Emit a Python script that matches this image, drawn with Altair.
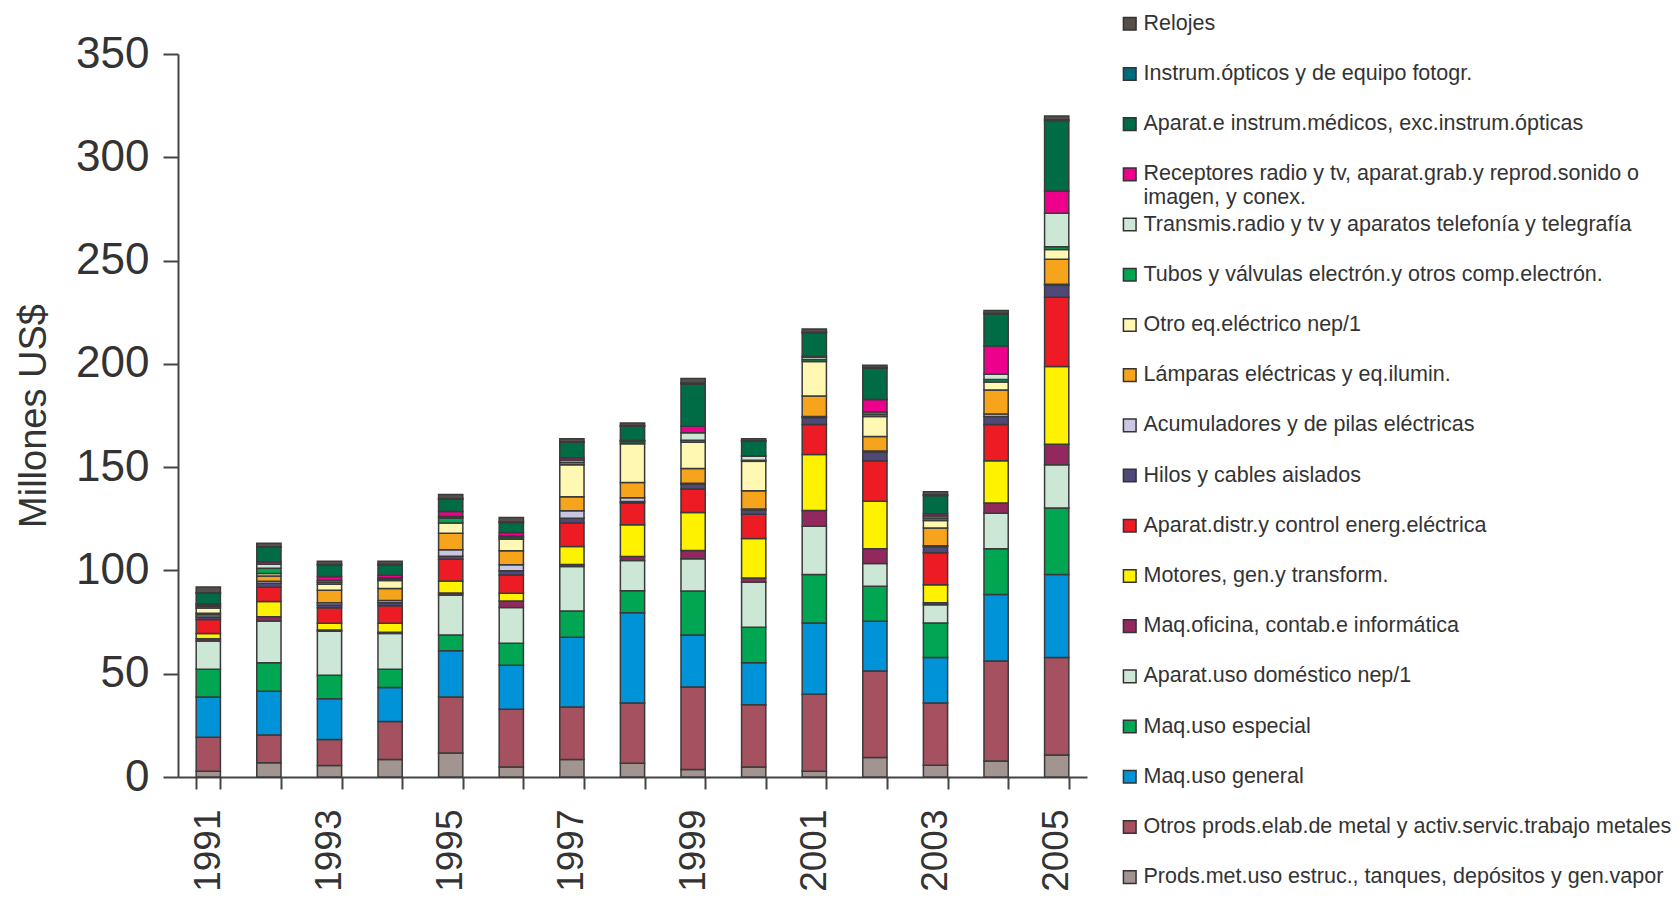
import altair as alt
import pandas as pd

years = [str(y) for y in range(1991, 2006)]

# Series, bottom of stack first
prods_met = [2.8, 6.9, 5.6, 8.5, 11.6, 4.8, 8.5, 6.7, 3.6, 4.9, 2.8, 9.4, 5.7, 7.7, 10.7]
otros_prods = [16.5, 13.4, 12.6, 18.4, 27.1, 28.0, 25.4, 29.1, 40.0, 30.1, 37.2, 41.9, 30.1, 48.5, 47.1]
maq_general = [19.4, 21.2, 19.7, 16.4, 22.4, 21.3, 33.7, 43.7, 25.1, 20.3, 34.6, 24.1, 22.0, 32.2, 40.2]
maq_especial = [13.5, 13.8, 11.4, 8.9, 7.6, 10.6, 12.7, 10.7, 21.3, 17.2, 23.4, 16.9, 16.8, 22.1, 32.2]
aparat_domestico = [13.6, 20.2, 21.3, 17.3, 19.4, 17.4, 21.6, 14.6, 15.6, 21.8, 23.4, 11.1, 8.8, 17.2, 20.9]
maq_oficina = [1.1, 2.1, 0.6, 0.6, 1.0, 3.1, 1.0, 1.9, 4.0, 2.0, 7.6, 7.1, 1.0, 5.0, 10.0]
motores = [2.6, 7.3, 3.2, 4.3, 5.8, 3.7, 8.7, 15.4, 18.5, 19.2, 27.1, 23.0, 8.7, 20.4, 37.6]
aparat_distr = [6.8, 6.9, 7.5, 8.5, 10.5, 8.9, 11.3, 10.5, 11.3, 11.7, 14.6, 19.6, 15.4, 17.6, 33.5]
hilos = [1.2, 2.0, 1.4, 1.5, 1.5, 2.1, 2.4, 0.8, 2.3, 2.0, 3.3, 4.2, 3.0, 3.8, 5.8]
acumuladores = [1.0, 1.0, 1.0, 1.0, 3.1, 2.8, 3.6, 1.8, 0.5, 0.5, 0.5, 0.5, 0.5, 1.2, 0.5]
lamparas = [0.8, 2.5, 6.1, 5.8, 8.0, 6.8, 6.8, 7.4, 7.1, 8.9, 9.9, 7.0, 8.5, 11.7, 12.1]
otro_eq = [2.5, 1.2, 2.9, 3.9, 4.9, 5.6, 15.5, 18.7, 12.7, 14.2, 16.7, 9.7, 3.7, 3.8, 4.8]
tubos = [0.8, 2.5, 1.0, 0.8, 2.5, 0.8, 1.2, 1.0, 1.0, 0.5, 1.0, 1.2, 1.2, 1.2, 1.3]
transmis = [0.8, 2.0, 0.8, 0.6, 0.7, 0.8, 1.0, 0.4, 3.7, 2.0, 1.2, 1.0, 1.0, 2.6, 16.2]
receptores = [0.5, 1.2, 2.0, 1.2, 2.4, 1.7, 1.1, 0.3, 3.1, 0.2, 0.3, 6.0, 1.0, 13.6, 10.8]
medicos = [5.0, 7.0, 5.5, 5.0, 6.0, 4.8, 7.5, 6.8, 20.5, 7.0, 11.4, 15.2, 8.8, 15.6, 34.0]
opticos = [0.3, 0.3, 0.3, 0.3, 0.3, 0.3, 0.3, 0.3, 0.4, 0.3, 0.3, 0.3, 0.4, 0.3, 0.5]
relojes = [2.8, 1.6, 1.6, 1.5, 2.0, 2.1, 1.4, 1.3, 2.2, 1.0, 1.6, 1.1, 1.5, 1.3, 1.8]

REC = "Receptores radio y tv, aparat.grab.y reprod.sonido o imagen, y conex."

categories = [
    "Prods.met.uso estruc., tanques, depósitos y gen.vapor",
    "Otros prods.elab.de metal y activ.servic.trabajo metales",
    "Maq.uso general",
    "Maq.uso especial",
    "Aparat.uso doméstico nep/1",
    "Maq.oficina, contab.e informática",
    "Motores, gen.y transform.",
    "Aparat.distr.y control energ.eléctrica",
    "Hilos y cables aislados",
    "Acumuladores y de pilas eléctricas",
    "Lámparas eléctricas y eq.ilumin.",
    "Otro eq.eléctrico nep/1",
    "Tubos y válvulas electrón.y otros comp.electrón.",
    "Transmis.radio y tv y aparatos telefonía y telegrafía",
    REC,
    "Aparat.e instrum.médicos, exc.instrum.ópticas",
    "Instrum.ópticos y de equipo fotogr.",
    "Relojes",
]
series = [prods_met, otros_prods, maq_general, maq_especial, aparat_domestico,
          maq_oficina, motores, aparat_distr, hilos, acumuladores, lamparas,
          otro_eq, tubos, transmis, receptores, medicos, opticos, relojes]
colors = ["#A19491", "#A5515F", "#0093D8", "#00A651", "#CDE7D7", "#93285E",
          "#FFF200", "#ED1C24", "#4E4979", "#CAC7E3", "#F7A41D", "#FFF8B2",
          "#00A651", "#CDE7D7", "#EC008C", "#006C45", "#006B7B", "#564E4B"]

rows = []
for i, (cat, vals) in enumerate(zip(categories, series)):
    for y, v in zip(years, vals):
        rows.append({"year": y, "cat": cat, "value": v, "idx": i})
df = pd.DataFrame(rows)

FONT = "Liberation Sans"
TXT = "#333333"

# every legend label is two lines so all rows keep the same height
label_expr = ("datum.label == '" + REC + "' ? "
              "['Receptores radio y tv, aparat.grab.y reprod.sonido o', 'imagen, y conex.'] "
              ": [datum.label, '']")

chart = alt.Chart(df).mark_bar(stroke="#3a3a3a", strokeWidth=1.5).encode(
    x=alt.X("year:N", sort=years,
            scale=alt.Scale(paddingInner=0.6, paddingOuter=0.3),
            axis=alt.Axis(title=None, labelAngle=-90, labelFontSize=37,
                          labelPadding=20, labelColor=TXT, labelFont=FONT,
                          labelExpr="toNumber(datum.value) % 2 == 1 ? datum.label : ''",
                          tickBand="extent", tickSize=12, tickWidth=2,
                          tickColor="#444444", domainColor="#444444",
                          domainWidth=2)),
    y=alt.Y("value:Q", stack="zero",
            scale=alt.Scale(domain=[0, 350], nice=False),
            axis=alt.Axis(values=[0, 50, 100, 150, 200, 250, 300, 350],
                          grid=False, tickSize=15, tickWidth=2,
                          tickColor="#444444", domainColor="#444444",
                          domainWidth=2, labelFontSize=44, labelPadding=14,
                          labelColor=TXT, labelFont=FONT,
                          title="Millones US$", titleFontSize=38,
                          titleFontWeight="normal", titleFont=FONT,
                          titleColor=TXT, titleX=-144, titleBaseline="middle")),
    color=alt.Color("cat:N",
                    scale=alt.Scale(domain=categories[::-1], range=colors[::-1]),
                    legend=alt.Legend(title=None, orient="none", legendX=941,
                                      legendY=-41, symbolType="square",
                                      symbolSize=160, symbolStrokeColor="#333333",
                                      symbolStrokeWidth=1.5, labelFontSize=21.5,
                                      labelFont=FONT, labelColor=TXT,
                                      labelOffset=3, labelLimit=0,
                                      rowPadding=4.2, labelExpr=label_expr)),
    order=alt.Order("idx:Q", sort="ascending"),
).properties(
    width=909, height=723,
    padding={"left": 170, "top": 46, "right": 585, "bottom": 118},
    autosize=alt.AutoSizeParams(type="none"),
).configure_view(stroke=None)

chart.save("out.html", embed_options={"renderer": "svg", "actions": False})
